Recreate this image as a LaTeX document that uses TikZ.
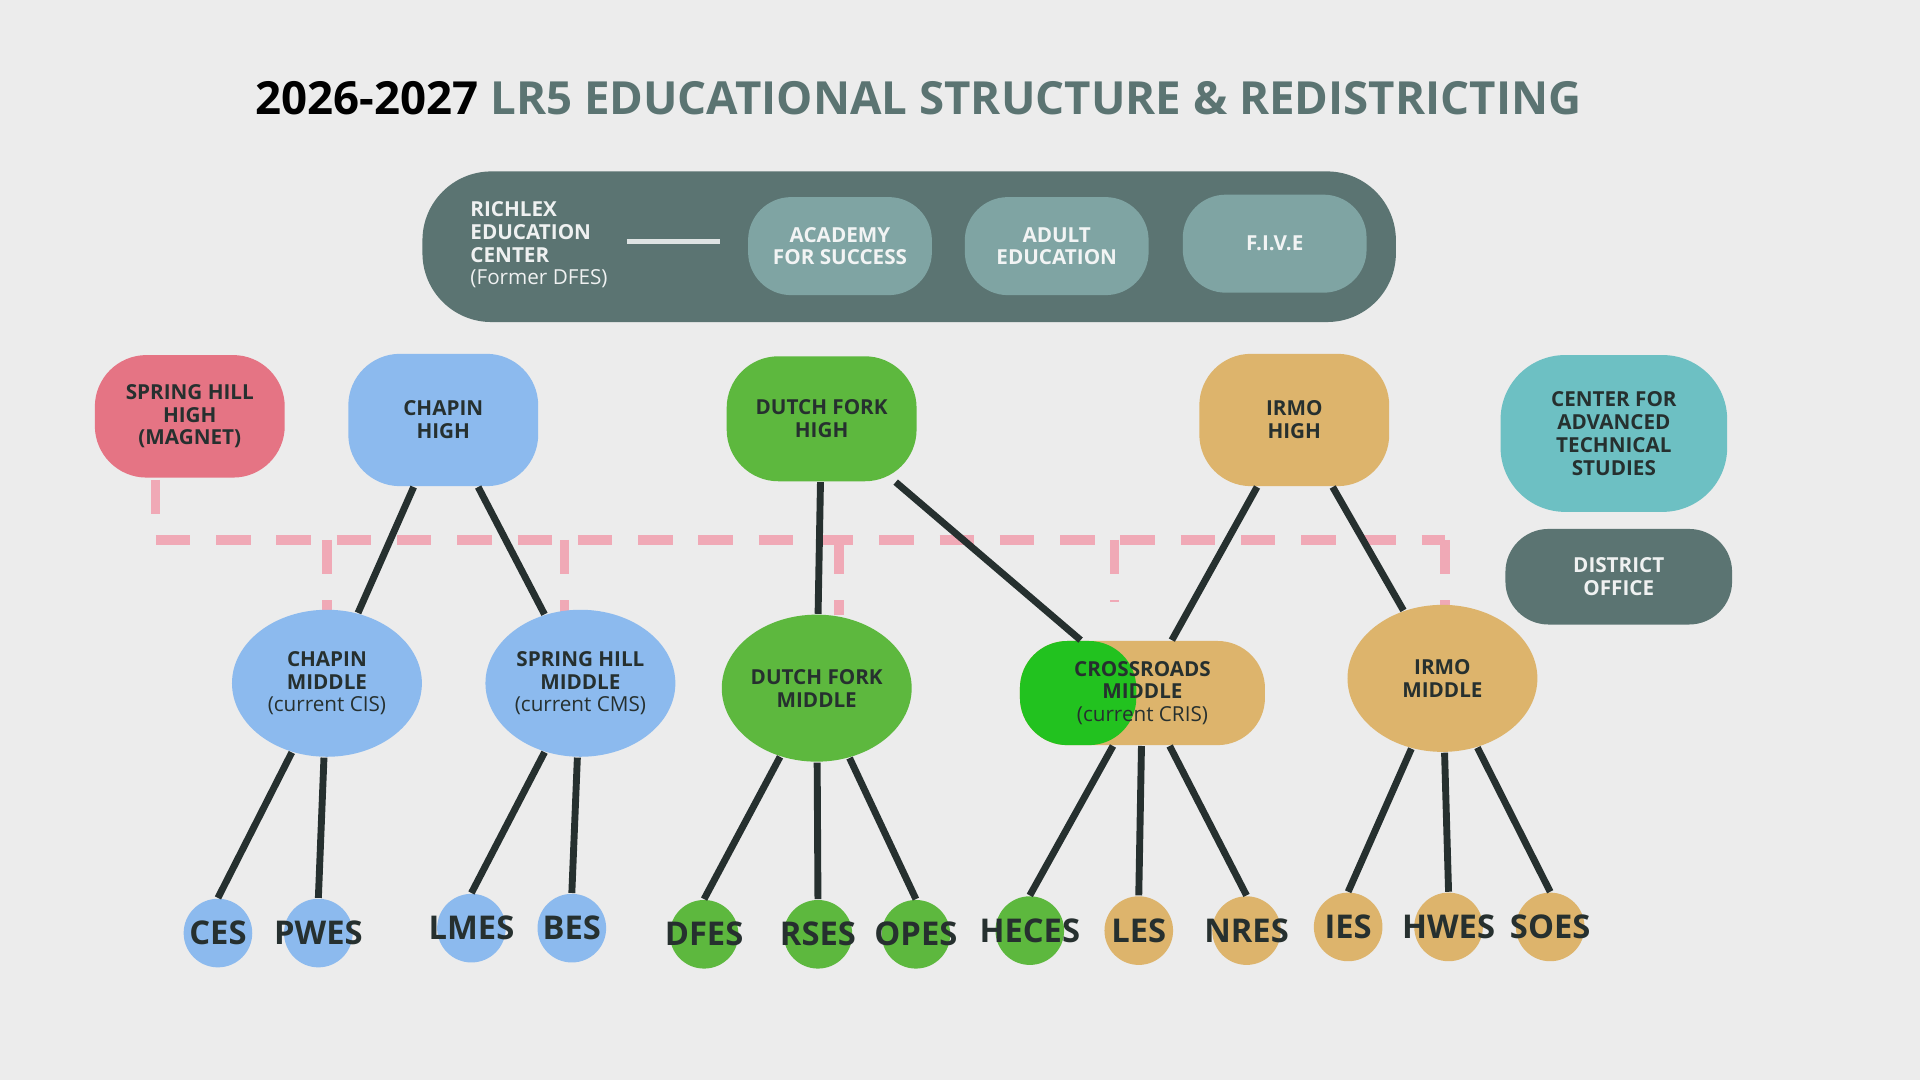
\documentclass[tikz,border=0pt]{standalone}
\usepackage{fontspec}
\setmainfont{Open Sans}
\usetikzlibrary{shapes.geometric}
\definecolor{bg}{HTML}{ECECEC}
\definecolor{slate}{HTML}{5B7472}
\definecolor{pill}{HTML}{7FA4A3}
\definecolor{pinkc}{HTML}{E57484}
\definecolor{dashpink}{HTML}{F0A9B6}
\definecolor{bluec}{HTML}{8CBAEE}
\definecolor{greenc}{HTML}{5DB83E}
\definecolor{brightg}{HTML}{22C21F}
\definecolor{tanc}{HTML}{DDB46C}
\definecolor{tealc}{HTML}{6DC0C3}
\definecolor{ink}{HTML}{26302F}
\tikzset{
  box/.style={rounded corners=12pt, inner sep=1pt, align=center, text=ink,
    font=\bfseries\fontsize{4.8}{5.3}\selectfont},
  high/.style={box, minimum width=1.55cm, minimum height=1.05cm},
  mid/.style={ellipse, inner sep=0pt, align=center, text=ink,
    font=\bfseries\fontsize{4.8}{5.3}\selectfont, minimum width=1.55cm, minimum height=1.2cm},
  elem/.style={circle, minimum size=0.56cm, inner sep=0pt},
  elab/.style={text=ink, font=\bfseries\fontsize{7.6}{8}\selectfont},
  pillbox/.style={box, fill=pill, text=white!92!slate, rounded corners=10pt,
    minimum width=1.5cm, minimum height=0.8cm},
  link/.style={line width=1.6pt, ink},
  magnet/.style={dashpink, line width=2.2pt, dash pattern=on 8pt off 6pt},
}
\begin{document}
\begin{tikzpicture}[x=0.01cm, y=-0.01cm]
\fill[bg] (0,0) rectangle (1568,882);
% title
\node[font=\bfseries\fontsize{10.6}{12}\selectfont] (title) at (750,80)
  {2026-2027 \textcolor{slate}{LR5 EDUCATIONAL STRUCTURE \& REDISTRICTING}};
% top bar
\fill[slate, rounded corners=16pt] (345,140) rectangle (1140,263);
\node[box, text=white!90!slate, align=left, anchor=west] (richlex) at (380,200)
  {RICHLEX\\EDUCATION\\CENTER\\{\mdseries(Former DFES)}};
\coordinate (r1) at (512,197);
\coordinate (r2) at (588,197);
\draw[white!80!slate, line width=1.2pt] (r1) -- (r2);
\node[pillbox] (academy) at (686,201) {ACADEMY\\FOR SUCCESS};
\node[pillbox] (adult) at (863,201) {ADULT\\EDUCATION};
\node[pillbox] (five) at (1041,199) {F.I.V.E};
% highs
\node[high, fill=pinkc, minimum height=1cm] (shh) at (155,340) {SPRING HILL\\HIGH\\(MAGNET)};
\node[high, fill=bluec, minimum height=1.08cm] (ch) at (362,343) {CHAPIN\\HIGH};
\node[high, fill=greenc, minimum height=1.02cm] (dfh) at (671,342) {DUTCH FORK\\HIGH};
\node[high, fill=tanc, minimum height=1.08cm] (ih) at (1057,343) {IRMO\\HIGH};
\node[high, fill=tealc, minimum width=1.85cm, minimum height=1.28cm, rounded corners=15pt] (cats) at (1318,354)
  {CENTER FOR\\ADVANCED\\TECHNICAL\\STUDIES};
\node[high, fill=slate, text=white!90!slate, minimum width=1.85cm, minimum height=0.78cm, rounded corners=10pt] (do) at (1322,471)
  {DISTRICT\\OFFICE};
% magnet dashed line
\coordinate (m0) at (127,441);
\coordinate (m1) at (1180,441);
\draw[magnet] (127,392) -- (m0) -- (m1);
\foreach \x/\y in {267/500, 461/500, 685/502, 910/492, 1180/497}
  \draw[magnet] (\x,441) -- (\x,\y);
% middles
\node[mid, fill=bluec] (cm) at (267,558) {CHAPIN\\MIDDLE\\{\mdseries(current CIS)}};
\node[mid, fill=bluec] (shm) at (474,558) {SPRING HILL\\MIDDLE\\{\mdseries(current CMS)}};
\node[mid, fill=greenc] (dfm) at (667,562) {DUTCH FORK\\MIDDLE};
\node[box, fill=tanc, minimum width=2cm, minimum height=0.85cm, rounded corners=11pt,
  path picture={\fill[brightg] (path picture bounding box.south west) rectangle ([xshift=-0.05cm]path picture bounding box.north);}]
  (crm) at (933,566) {CROSSROADS\\MIDDLE\\{\mdseries(current CRIS)}};
\node[mid, fill=tanc] (im) at (1178,554) {IRMO\\MIDDLE};
% high to middle
\draw[link] (ch) -- (cm);
\draw[link] (ch) -- (shm);
\draw[link] (dfh) -- (dfm);
\draw[link] (dfh) -- (crm);
\draw[link] (ih) -- (crm);
\draw[link] (ih) -- (im);
% elementaries
\foreach \n/\x/\y/\c/\m in {ces/178/762/bluec/cm, pwes/260/762/bluec/cm,
    lmes/385/758/bluec/shm, bes/467/758/bluec/shm,
    dfes/575/763/greenc/dfm, rses/668/763/greenc/dfm, opes/748/763/greenc/dfm,
    heces/841/760/greenc/crm, les/930/760/tanc/crm, nres/1018/760/tanc/crm,
    ies/1101/757/tanc/im, hwes/1183/757/tanc/im, soes/1266/757/tanc/im}{
  \node[elem, fill=\c] (\n) at (\x,\y) {};
  \draw[link] (\m) -- (\n.north);
}
\foreach \n/\t in {ces/CES, pwes/PWES, lmes/LMES, bes/BES, dfes/DFES, rses/RSES,
    opes/OPES, heces/HECES, les/LES, nres/NRES, ies/IES, hwes/HWES, soes/SOES}
  \node[elab] (\n-l) at (\n) {\t};
\end{tikzpicture}
\end{document}
